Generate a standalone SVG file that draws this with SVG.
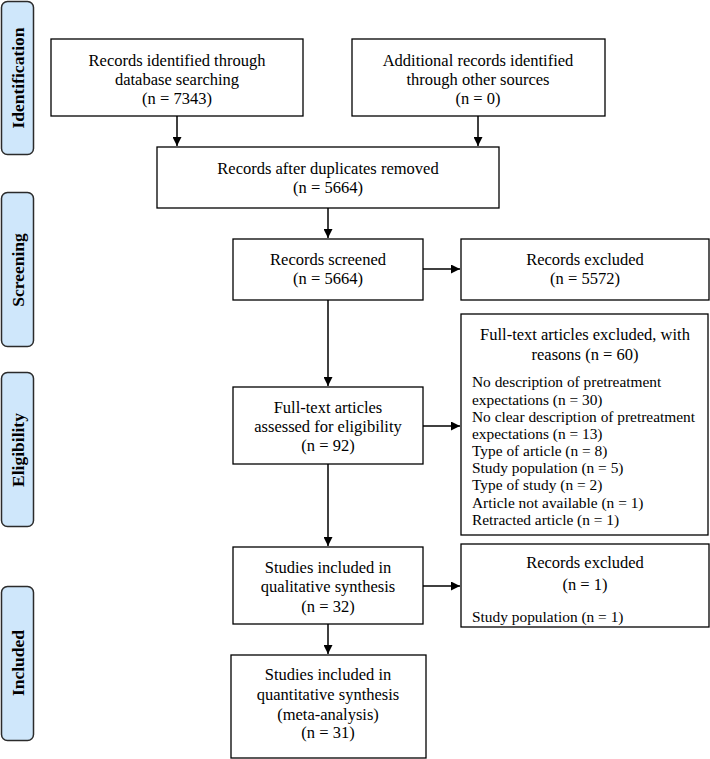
<svg xmlns="http://www.w3.org/2000/svg" width="710" height="759" viewBox="0 0 710 759">
<defs>
<marker id="ah" viewBox="0 0 10 10" refX="10" refY="5" markerWidth="9" markerHeight="9" markerUnits="userSpaceOnUse" orient="auto">
<path d="M0,0 L10,5 L0,10 z" fill="#000"/>
</marker>
</defs>
<style>
.box{fill:#fff;stroke:#000;stroke-width:1.3}
.phase{fill:#cfe7fb;stroke:#2b2b2b;stroke-width:1.5}
.t{font-family:"Liberation Serif","Times New Roman",serif;font-size:16.5px;fill:#000}
.s{font-size:15.4px}
.c{text-anchor:middle}
.ph{font-family:"Liberation Serif","Times New Roman",serif;font-size:17.5px;font-weight:bold;text-anchor:middle;fill:#000}
.ln{stroke:#000;stroke-width:1.5;fill:none}
</style>
<rect width="710" height="759" fill="#fff"/>
<g id="phase-identification"><rect class="phase" x="1.5" y="1.5" width="32" height="153" rx="6"/><text class="ph" transform="translate(24,78) rotate(-90)">Identification</text></g>
<g id="phase-screening"><rect class="phase" x="1.5" y="192.5" width="32" height="154" rx="6"/><text class="ph" transform="translate(24,270) rotate(-90)">Screening</text></g>
<g id="phase-eligibility"><rect class="phase" x="1.5" y="372.5" width="32" height="154" rx="6"/><text class="ph" transform="translate(24,450) rotate(-90)">Eligibility</text></g>
<g id="phase-included"><rect class="phase" x="1.5" y="586.5" width="32" height="154" rx="6"/><text class="ph" transform="translate(24,663) rotate(-90)">Included</text></g>

<g id="db"><rect class="box" x="51" y="39" width="252" height="77"/>
<text class="t c" x="177" y="66">Records identified through</text>
<text class="t c" x="177" y="85">database searching</text>
<text class="t c" x="177" y="104">(n = 7343)</text></g>

<g id="other"><rect class="box" x="352" y="39" width="253" height="77"/>
<text class="t c" x="478" y="66">Additional records identified</text>
<text class="t c" x="478" y="85">through other sources</text>
<text class="t c" x="478" y="104">(n = 0)</text></g>

<g id="dedup"><rect class="box" x="157" y="147" width="342" height="61"/>
<text class="t c" x="328" y="174">Records after duplicates removed</text>
<text class="t c" x="328" y="193">(n = 5664)</text></g>

<g id="screened"><rect class="box" x="233" y="239" width="190" height="61"/>
<text class="t c" x="328" y="265">Records screened</text>
<text class="t c" x="328" y="284">(n = 5664)</text></g>

<g id="excluded1"><rect class="box" x="461" y="239" width="248" height="61"/>
<text class="t c" x="585" y="265">Records excluded</text>
<text class="t c" x="585" y="284">(n = 5572)</text></g>

<g id="fulltext"><rect class="box" x="233" y="387" width="190" height="77"/>
<text class="t c" x="328" y="413">Full-text articles</text>
<text class="t c" x="328" y="432">assessed for eligibility</text>
<text class="t c" x="328" y="451">(n = 92)</text></g>

<g id="ftexcluded"><rect class="box" x="461" y="314" width="247" height="221"/>
<text class="t c" x="585" y="340">Full-text articles excluded, with</text>
<text class="t c" x="585" y="360">reasons (n = 60)</text>
<text class="t s" x="472" y="387">No description of pretreatment</text>
<text class="t s" x="472" y="405">expectations (n = 30)</text>
<text class="t s" x="472" y="422">No clear description of pretreatment</text>
<text class="t s" x="472" y="439">expectations (n = 13)</text>
<text class="t s" x="472" y="456">Type of article (n = 8)</text>
<text class="t s" x="472" y="473">Study population (n = 5)</text>
<text class="t s" x="472" y="490">Type of study (n = 2)</text>
<text class="t s" x="472" y="508">Article not available (n = 1)</text>
<text class="t s" x="472" y="525">Retracted article (n = 1)</text></g>

<g id="qualitative"><rect class="box" x="233" y="547" width="190" height="77"/>
<text class="t c" x="328" y="573">Studies included in</text>
<text class="t c" x="328" y="592">qualitative synthesis</text>
<text class="t c" x="328" y="612">(n = 32)</text></g>

<g id="excluded2"><rect class="box" x="461" y="544" width="248" height="83"/>
<text class="t c" x="585" y="568">Records excluded</text>
<text class="t c" x="585" y="590">(n = 1)</text>
<text class="t s" x="472" y="622">Study population (n = 1)</text></g>

<g id="quantitative"><rect class="box" x="231" y="655" width="195" height="103"/>
<text class="t c" x="328" y="680">Studies included in</text>
<text class="t c" x="328" y="700">quantitative synthesis</text>
<text class="t c" x="328" y="720">(meta-analysis)</text>
<text class="t c" x="328" y="738">(n = 31)</text></g>

<g id="connectors">
<line class="ln" x1="177" y1="116" x2="177" y2="146" marker-end="url(#ah)"/>
<line class="ln" x1="478" y1="116" x2="478" y2="146" marker-end="url(#ah)"/>
<line class="ln" x1="328" y1="208" x2="328" y2="238" marker-end="url(#ah)"/>
<line class="ln" x1="423" y1="269" x2="460" y2="269" marker-end="url(#ah)"/>
<line class="ln" x1="328" y1="300" x2="328" y2="386" marker-end="url(#ah)"/>
<line class="ln" x1="423" y1="426" x2="460" y2="426" marker-end="url(#ah)"/>
<line class="ln" x1="328" y1="464" x2="328" y2="546" marker-end="url(#ah)"/>
<line class="ln" x1="423" y1="586" x2="460" y2="586" marker-end="url(#ah)"/>
<line class="ln" x1="328" y1="624" x2="328" y2="654" marker-end="url(#ah)"/>
</g>
</svg>
